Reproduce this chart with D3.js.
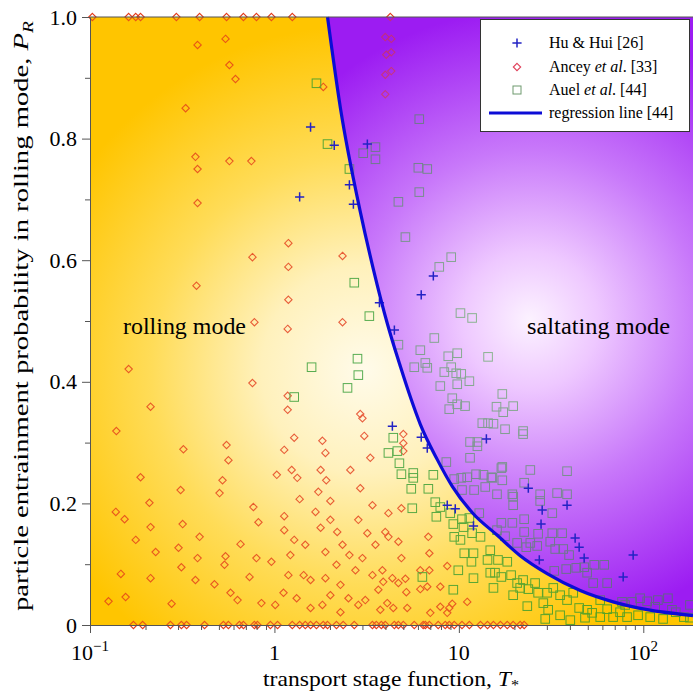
<!DOCTYPE html>
<html><head><meta charset="utf-8">
<script src="https://cdn.jsdelivr.net/npm/d3@7"></script>
<style>body{margin:0;background:#fff}svg{display:block;font-family:"Liberation Serif","Times New Roman",serif}</style>
</head><body><svg id="c" width="693" height="694"></svg>
<script>
// ---------- data ----------
const huT = [1.57,2.11,3.19,1.37,2.55,2.68,3.71,4.47,7.27,6.25,4.36,6.25,6.74,14.1,23.8,8.65,9.56,12.0,28.3,27.9,38.6,42.7,44.9,47.8,27.3,88.1,77.8];
const huP = [0.819,0.789,0.791,0.704,0.724,0.692,0.530,0.485,0.574,0.543,0.327,0.309,0.291,0.306,0.225,0.197,0.191,0.163,0.189,0.166,0.197,0.143,0.128,0.110,0.107,0.115,0.079];

const anceyT = [
0.103,0.162,0.177,0.188,0.294,0.393,0.550,0.679,0.799,0.963,1.25,4.25,
0.172,0.193,0.273,0.313,0.334,0.418,0.529,0.563,0.646,0.679,0.779,0.809,0.951,1.04,1.25,1.37,1.47,1.57,1.69,1.84,1.94,2.17,2.36,2.71,3.40,3.57,3.80,3.99,4.47,4.70,5.00,5.73,6.41,6.58,6.92,7.73,8.44,8.87,9.44,10.4,11.4,13.1,14.3,15.4,16.8,18.3,19.7,21.5,22.6,
0.543,0.383,0.570,0.615,0.330,0.373,0.570,0.750,0.383,0.383,3.99,4.30,4.04,4.30,3.99,4.30,3.99,1.84,0.760,0.378,
0.779,0.162,0.760,0.213,1.19,1.19,1.19,1.18,1.18,2.34,2.34,2.92,5.00,5.00,5.00,4.15,4.88,3.99,4.15,4.70,
6.83,6.92,4.88,3.85,6.18,6.92,8.65,3.89,4.36,4.70,5.13,6.18,6.74,5.19,7.93,4.09,4.41,5.25,7.93,8.87,
9.21,11.1,7.00,8.65,0.139,0.188,0.138,0.154,0.177,0.210,0.213,0.227,0.147,0.126,0.156,0.321,0.310,0.318,0.302,0.313,
0.373,0.383,0.393,0.473,0.213,0.277,0.550,0.563,0.523,0.504,0.655,0.543,0.536,0.578,0.631,0.733,0.799,0.819,0.769,0.850,
1.03,1.13,1.18,1.28,1.24,1.33,1.37,1.13,1.13,1.28,1.47,0.963,1.22,1.19,1.44,1.57,1.12,1.32,1.01,1.57,
1.82,1.89,1.78,1.91,1.73,2.01,1.67,2.01,1.78,2.19,2.34,1.89,2.55,2.17,2.75,1.89,2.28,2.01,2.52,1.82,
2.85,2.28,3.00,3.07,3.31,2.58,2.92,3.40,2.85,3.19,3.53,3.00,3.40,3.66,3.11,3.75];
const anceyP = [
1,1,1,1,1,1,1,1,1,1,1,1,
0,0,0,0,0,0,0,0,0,0,0,0,0,0,0,0,0,0,0,0,0,0,0,0,0,0,0,0,0,0,0,0,0,0,0,0,0,0,0,0,0,0,0,0,0,0,0,0,0,
0.964,0.954,0.921,0.898,0.850,0.770,0.763,0.763,0.750,0.694,0.967,0.964,0.938,0.942,0.905,0.911,0.873,0.885,0.605,0.558,
0.498,0.421,0.398,0.359,0.628,0.589,0.535,0.487,0.377,0.607,0.498,0.347,0.314,0.299,0.286,0.184,0.192,0.153,0.145,0.137,
0.145,0.118,0.110,0.090,0.090,0.090,0.097,0.071,0.077,0.069,0.076,0.059,0.063,0.054,0.063,0.036,0.028,0.028,0.030,0.028,
0.035,0.038,0.020,0.020,0.319,0.243,0.186,0.174,0.140,0.201,0.161,0.120,0.084,0.039,0.046,0.289,0.222,0.166,0.127,0.095,
0.074,0.110,0.145,0.067,0.077,0.035,0.296,0.271,0.238,0.217,0.133,0.113,0.099,0.053,0.041,0.079,0.110,0.169,0.194,0.036,
0.247,0.288,0.354,0.308,0.255,0.242,0.207,0.179,0.156,0.140,0.132,0.104,0.115,0.082,0.082,0.074,0.053,0.044,0.033,0.028,
0.303,0.283,0.255,0.238,0.219,0.204,0.186,0.173,0.160,0.153,0.132,0.120,0.115,0.099,0.090,0.077,0.066,0.049,0.044,0.033,
0.033,0.021,0.340,0.311,0.275,0.255,0.225,0.197,0.173,0.151,0.132,0.110,0.082,0.058,0.041,0.025];

const auelT = [
1.69,1.94,2.55,2.71,3.27,1.59,2.82,2.85,2.49,1.28,3.53,3.03,3.53,6.10,6.03,6.74,6.10,4.70,5.13,9.09,
7.83,10.2,11.8,4.70,7.36,6.18,6.58,5.73,6.74,8.76,9.80,14.4,9.09,8.34,9.68,10.3,11.4,9.80,7.93,9.21,
9.80,10.8,8.87,17.2,16.0,17.4,19.7,15.4,17.8,22.3,22.3,17.0,24.4,38.6,15.2,17.2,22.6,16.1,19.5,27.6,
34.1,38.6,13.4,14.4,11.5,12.6,12.6,11.5,8.55,17.2,9.44,10.3,11.1,12.4,13.6,15.0,10.4,12.1,13.9,19.7,
19.7,27.6,32.1,12.9,17.0,19.5,22.6,22.6,26.9,32.1,36.3,17.8,16.1,20.7,24.4,26.6,23.2,31.3,33.3,36.8,
39.6,32.9,38.2,43.3,47.8,54.2,61.4,49.6,63.7,53.5,76.7,105,120,86.9,63.7,74.8,93.7,109,128,81.7,
68.6,4.41,4.15,4.64,4.76,4.88,5.66,5.66,7.27,5.52,6.83,7.45,7.93,7.55,8.98,9.33,10.4,11.4,10.6,11.8,
13.1,9.44,10.7,12.0,11.7,12.0,9.93,14.8,14.3,16.3,18.3,14.8,15.7,17.0,19.2,20.7,22.3,15.4,19.7,21.5,
23.8,25.9,26.9,30.1,32.5,35.4,38.6,41.7,44.9,52.8,58.4,35.4,30.5,23.5,28.7,49.6,6.34,9.33,5.59,10.2,
143,166,179,136,58.4,79.7,96.1,116,150,179,29.4,40.2,48.3];
const auelP = [
0.891,0.791,0.750,0.563,0.508,0.424,0.438,0.411,0.390,0.375,0.786,0.776,0.766,0.832,0.752,0.750,0.712,0.696,0.638,0.605,
0.589,0.513,0.505,0.461,0.472,0.452,0.431,0.424,0.423,0.442,0.447,0.441,0.424,0.416,0.414,0.413,0.401,0.396,0.393,0.373,
0.363,0.360,0.355,0.380,0.359,0.350,0.360,0.331,0.322,0.319,0.314,0.258,0.255,0.253,0.242,0.238,0.234,0.215,0.215,0.215,
0.217,0.215,0.332,0.332,0.301,0.301,0.294,0.275,0.268,0.260,0.240,0.242,0.243,0.248,0.247,0.243,0.222,0.222,0.227,0.211,
0.197,0.204,0.184,0.184,0.168,0.168,0.174,0.153,0.150,0.151,0.151,0.146,0.156,0.135,0.135,0.130,0.128,0.137,0.125,0.125,
0.115,0.089,0.092,0.094,0.095,0.099,0.099,0.086,0.069,0.069,0.038,0.039,0.041,0.038,0.026,0.021,0.016,0.013,0.010,0.013,
0.013,0.308,0.283,0.286,0.266,0.248,0.250,0.242,0.247,0.224,0.224,0.202,0.194,0.178,0.184,0.166,0.174,0.176,0.161,0.151,
0.145,0.145,0.118,0.118,0.104,0.077,0.090,0.123,0.107,0.107,0.104,0.086,0.086,0.079,0.082,0.069,0.074,0.061,0.049,0.061,
0.059,0.069,0.053,0.053,0.061,0.049,0.041,0.053,0.028,0.020,0.013,0.016,0.025,0.031,0.036,0.025,0.079,0.058,0.192,0.140,
0.025,0.013,0.033,0.044,0.041,0.033,0.044,0.030,0.021,0.012,0.010,0.008,0.012];

const regT = [1.94,2.28,2.92,3.44,4.10,4.82,5.5,6.18,7.64,9.21,11.97,16.1,21.5,30.1,45.5,68.6,105,186];
const regP = [1.0,0.85,0.68,0.585,0.495,0.425,0.372,0.33,0.272,0.228,0.183,0.148,0.114,0.0845,0.0566,0.038,0.0252,0.0155];

const xTickValues = [0.1, 1, 10, 100];
const xTickBase = ["10", "1", "10", "10"];
const xTickSup = ["\u22121", "", "", "2"];
const yTickValues = [0, 0.2, 0.4, 0.6, 0.8, 1.0];
const yTickLabels = ["0", "0.2", "0.4", "0.6", "0.8", "1.0"];
const legendLabels = [["Hu & Hui [26]"], ["Ancey ", "et al", ". [33]"], ["Auel ", "et al", ". [44]"], ["regression line [44]"]];

// ---------- layout ----------
const m = {l: 90, r: 693, t: 17, b: 625};
const x = d3.scaleLog().domain([0.1, 186]).range([m.l, m.r]);
const y = d3.scaleLinear().domain([0, 1]).range([m.b, m.t]);
const svg = d3.select('#c');
const defs = svg.append('defs');

const gold = defs.append('radialGradient').attr('id','gold').attr('gradientUnits','userSpaceOnUse')
  .attr('cx',365).attr('cy',370).attr('r',345);
[[0,'#FFFBEA'],[0.3,'#FFF1BC'],[0.62,'#FFDC58'],[1,'#FFC500']].forEach(s=>gold.append('stop').attr('offset',s[0]).attr('stop-color',s[1]));
const purp = defs.append('radialGradient').attr('id','purp').attr('gradientUnits','userSpaceOnUse')
  .attr('cx',530).attr('cy',320).attr('r',310);
[[0,'#FCF2FF'],[0.22,'#EEC8FF'],[0.55,'#C878FA'],[1,'#9C1CF2']].forEach(s=>purp.append('stop').attr('offset',s[0]).attr('stop-color',s[1]));

const reg = regT.map((t,i)=>[t, regP[i]]);
const lineGen = d3.line().x(d=>x(d[0])).y(d=>y(d[1])).curve(d3.curveMonotoneX);
const curvePath = lineGen(reg);
const purplePath = curvePath + `L${x(186)},${y(1)}Z`;
const yellowPath = `M${m.l},${m.t}` + curvePath.replace(/^M/,'L') + `L${m.r},${m.b}L${m.l},${m.b}Z`;

svg.append('path').attr('d', yellowPath).attr('fill','url(#gold)');
svg.append('path').attr('d', purplePath).attr('fill','url(#purp)');

// markers
const dia = 3.7, sq = 8.6, cr = 4.6;
const diamondPath = `M0,${-dia}L${dia},0L0,${dia}L${-dia},0Z`;

const pts = svg.append('g');
pts.selectAll('path.anc').data(anceyT.map((t,i)=>[t, anceyP[i]])).join('path')
  .attr('class','anc').attr('d', diamondPath)
  .attr('transform', d=>`translate(${x(d[0])},${y(d[1])})`)
  .attr('fill','none').attr('stroke','#E33A1A').attr('stroke-width',1.1);
pts.selectAll('rect.auel').data(auelT.map((t,i)=>[t, auelP[i]])).join('rect')
  .attr('class','auel')
  .attr('x', d=>x(d[0])-sq/2).attr('y', d=>y(d[1])-sq/2).attr('width',sq).attr('height',sq)
  .attr('fill','none').attr('stroke','#2F9A2F').attr('stroke-width',1);

// overlays blending markers with background
svg.append('path').attr('d', yellowPath).attr('fill','url(#gold)').attr('opacity',0.2);
svg.append('path').attr('d', purplePath).attr('fill','url(#purp)').attr('opacity',0.47);

// crosses on top
svg.append('g').selectAll('path').data(huT.map((t,i)=>[t, huP[i]])).join('path')
  .attr('d', `M${-cr},0H${cr}M0,${-cr}V${cr}`)
  .attr('transform', d=>`translate(${x(d[0])},${y(d[1])})`)
  .attr('stroke','#2323C4').attr('stroke-width',1.5).attr('fill','none');

// regression line
svg.append('path').attr('d', curvePath).attr('fill','none').attr('stroke','#0C0CD6').attr('stroke-width',3.2);

// text labels in regions
svg.append('text').attr('x',123).attr('y',334).attr('font-size',23)
  .attr('textLength',123).attr('lengthAdjust','spacingAndGlyphs').text('rolling mode');
svg.append('text').attr('x',527).attr('y',334).attr('font-size',23)
  .attr('textLength',143).attr('lengthAdjust','spacingAndGlyphs').text('saltating mode');

// axes
const axCol = '#555';
const yAxis = svg.append('g').attr('transform',`translate(${m.l},0)`)
  .call(d3.axisLeft(y).tickValues(yTickValues).tickSize(8).tickSizeOuter(0).tickPadding(5)
    .tickFormat((d,i)=>yTickLabels[i]));
yAxis.selectAll('text').attr('font-size',22).attr('font-family','"Liberation Serif",serif').attr('fill','#000');
svg.append('g').attr('transform',`translate(${m.l},0)`)
  .call(d3.axisLeft(y).tickValues([0.1,0.3,0.5,0.7,0.9]).tickSize(5).tickFormat(''))
  .select('.domain').remove();

const minorX = [];
[0.1,1,10,100].forEach(b=>{for(let k=2;k<=9;k++){const v=b*k; if(v<186) minorX.push(v);}});
svg.append('g').attr('transform',`translate(0,${m.b})`)
  .call(d3.axisBottom(x).tickValues(xTickValues).tickSize(8).tickSizeOuter(0).tickFormat(''));
svg.append('g').attr('transform',`translate(0,${m.b})`)
  .call(d3.axisBottom(x).tickValues(minorX).tickSize(5).tickFormat(''))
  .select('.domain').remove();
svg.selectAll('.domain, .tick line').attr('stroke',axCol);

xTickValues.forEach((v,i)=>{
  const t = svg.append('text').attr('x',x(v)).attr('y',660).attr('text-anchor','middle').attr('font-size',22);
  t.append('tspan').text(xTickBase[i]);
  if (xTickSup[i]) t.append('tspan').attr('font-size',15).attr('dy',-9).text(xTickSup[i]);
});

// top frame line
svg.append('line').attr('x1',m.l).attr('x2',m.r).attr('y1',m.t).attr('y2',m.t).attr('stroke',axCol).attr('stroke-width',1);

// axis titles
const xt = svg.append('text').attr('x',391).attr('y',686).attr('text-anchor','middle').attr('font-size',22)
  .attr('textLength',256).attr('lengthAdjust','spacingAndGlyphs');
xt.append('tspan').text('transport stage function, ');
xt.append('tspan').attr('font-style','italic').text('T');
xt.append('tspan').attr('font-size',15).attr('dy',4).text('*');

const yt = svg.append('text').attr('transform','translate(28,316) rotate(-90)').attr('text-anchor','middle').attr('font-size',22)
  .attr('textLength',590).attr('lengthAdjust','spacingAndGlyphs');
yt.append('tspan').text('particle entrainment probability in rolling mode, ');
yt.append('tspan').attr('font-style','italic').text('P');
yt.append('tspan').attr('font-style','italic').attr('font-size',15).attr('dy',5).text('R');

// legend
const lg = svg.append('g');
lg.append('rect').attr('x',480.5).attr('y',19.5).attr('width',209).attr('height',112)
  .attr('fill','#fff').attr('stroke','#333').attr('stroke-width',1);
const rows = [43, 67, 90, 113];
lg.append('path').attr('d',`M${-cr},0H${cr}M0,${-cr}V${cr}`).attr('transform',`translate(517,${rows[0]})`)
  .attr('stroke','#2323C4').attr('stroke-width',1.5);
lg.append('path').attr('d',diamondPath).attr('transform',`translate(517,${rows[1]})`)
  .attr('fill','none').attr('stroke','#E0405A').attr('stroke-width',1.1);
lg.append('rect').attr('x',517-4).attr('y',rows[2]-4).attr('width',8).attr('height',8)
  .attr('fill','none').attr('stroke','#6E9A6E').attr('stroke-width',1);
lg.append('line').attr('x1',489).attr('x2',542).attr('y1',rows[3]).attr('y2',rows[3])
  .attr('stroke','#0C0CD6').attr('stroke-width',3);
legendLabels.forEach((parts,i)=>{
  const t = lg.append('text').attr('x',549).attr('y',rows[i]+5).attr('font-size',16);
  parts.forEach((p,j)=>t.append('tspan').attr('font-style', j===1 ? 'italic':'normal').text(p));
});
</script></body></html>
